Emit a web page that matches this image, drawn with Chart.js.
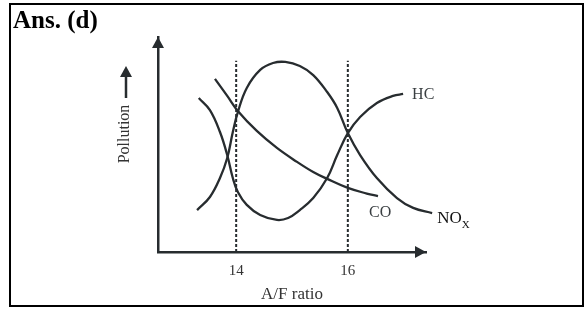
<!DOCTYPE html>
<html>
<head>
<meta charset="utf-8">
<script src="https://cdn.jsdelivr.net/npm/chart.js@4.4.0/dist/chart.umd.min.js"></script>
<style>
  html, body { margin: 0; padding: 0; background: #fff; }
  #wrap { position: relative; width: 587px; height: 310px; }
  #c { position: absolute; left: 0; top: 0; }
  #frame { position: absolute; left: 9px; top: 3px; width: 571px; height: 300px; border: 2px solid #000; pointer-events: none; }
  #ans { position: absolute; left: 13px; top: 6px; font: bold 25px "Liberation Serif", "Times New Roman", serif; color: #000; line-height: 1.1; }
</style>
</head>
<body>
<div id="wrap">
  <canvas id="c" width="587" height="310"></canvas>
  <div id="frame"></div>
  <div id="ans">Ans. (d)</div>
</div>
<script>
// A/F ratio tick labels shown
const tickValues = [14, 16];
const dashedAt = [14, 16];
const dashedTop = 89;

// HC curve
const hcX = [13.33, 13.53, 13.71, 13.84, 13.94, 14.03, 14.19, 14.43, 14.73, 14.93, 15.14, 15.38, 15.63, 15.81, 16.0, 16.22, 16.52, 16.81, 16.99];
const hcY = [71.6, 66.0, 55.8, 45.1, 34.4, 27.9, 21.9, 17.2, 14.9, 15.8, 19.5, 25.1, 34.4, 45.1, 55.3, 62.8, 69.3, 72.6, 73.5];

// NOx curve
const noxX = [13.30, 13.53, 13.71, 13.84, 13.94, 14.03, 14.19, 14.43, 14.66, 14.88, 15.14, 15.38, 15.63, 15.81, 16.0, 16.22, 16.52, 16.88, 17.17, 17.51];
const noxY = [19.5, 25.6, 34.4, 43.7, 55.8, 65.1, 76.3, 84.7, 87.9, 88.4, 86.5, 82.3, 74.4, 67.0, 55.3, 45.1, 34.4, 25.1, 20.5, 18.1];

// CO curve
const coX = [13.62, 13.84, 14.03, 14.37, 14.73, 15.09, 15.38, 15.63, 16.0, 16.34, 16.54];
const coY = [80.5, 72.6, 65.6, 56.3, 48.4, 41.9, 37.2, 34.0, 29.8, 27.2, 26.0];

const INK = '#272c2f';
const SERIF = '"Liberation Serif", "Times New Roman", serif';

const pts = (xs, ys) => xs.map((x, i) => ({ x: x, y: ys[i] }));

function curve(label, xs, ys) {
  return {
    label: label,
    data: pts(xs, ys),
    showLine: true,
    borderColor: INK,
    borderWidth: 2.3,
    pointRadius: 0,
    tension: 0.4,
    clip: false,
    fill: false
  };
}

const datasets = [
  curve('HC', hcX, hcY),
  curve('NOx', noxX, noxY),
  curve('CO', coX, coY)
];
dashedAt.forEach(v => datasets.push({
  label: 'A/F ' + v,
  data: [{ x: v, y: 0 }, { x: v, y: dashedTop }],
  showLine: true,
  borderColor: INK,
  borderWidth: 2,
  borderDash: [3, 2],
  pointRadius: 0,
  clip: false
}));

const decor = {
  id: 'decor',
  afterDraw(chart) {
    const ctx = chart.ctx;
    const xs = chart.scales.x, ys = chart.scales.y;
    const ca = chart.chartArea;
    ctx.save();
    ctx.fillStyle = INK;
    // y axis arrow head
    ctx.beginPath();
    ctx.moveTo(ca.left, ca.top);
    ctx.lineTo(ca.left - 6, ca.top + 11);
    ctx.lineTo(ca.left + 6, ca.top + 11);
    ctx.closePath();
    ctx.fill();
    // x axis arrow head
    ctx.beginPath();
    ctx.moveTo(ca.right, ca.bottom);
    ctx.lineTo(ca.right - 11, ca.bottom - 6);
    ctx.lineTo(ca.right - 11, ca.bottom + 6);
    ctx.closePath();
    ctx.fill();

    // Pollution label with arrow
    const px = ca.left - 33;
    ctx.save();
    ctx.translate(px, 134);
    ctx.rotate(-Math.PI / 2);
    ctx.fillStyle = '#333';
    ctx.font = '16px ' + SERIF;
    ctx.textAlign = 'center';
    ctx.textBaseline = 'middle';
    ctx.fillText('Pollution', 0, 0);
    ctx.restore();
    ctx.strokeStyle = INK;
    ctx.lineWidth = 2.5;
    ctx.beginPath();
    ctx.moveTo(px + 1, 98);
    ctx.lineTo(px + 1, 76);
    ctx.stroke();
    ctx.beginPath();
    ctx.moveTo(px + 1, 66);
    ctx.lineTo(px - 5, 77);
    ctx.lineTo(px + 7, 77);
    ctx.closePath();
    ctx.fill();

    // curve labels
    const end = (xsArr, ysArr) => ({
      x: xs.getPixelForValue(xsArr[xsArr.length - 1]),
      y: ys.getPixelForValue(ysArr[ysArr.length - 1])
    });
    ctx.textBaseline = 'middle';
    ctx.textAlign = 'left';
    ctx.font = '16px ' + SERIF;
    ctx.fillStyle = '#3a3f42';
    const h = end(hcX, hcY);
    ctx.fillText('HC', h.x + 9, h.y + 1);
    const c = end(coX, coY);
    ctx.fillText('CO', c.x - 9, c.y + 17);
    const n = end(noxX, noxY);
    ctx.fillStyle = '#111';
    ctx.font = '17px ' + SERIF;
    ctx.fillText('NO', n.x + 5, n.y + 5);
    const w = ctx.measureText('NO').width;
    ctx.font = '11px ' + SERIF;
    ctx.fillText('X', n.x + 5 + w, n.y + 12);
    ctx.restore();
  }
};

new Chart(document.getElementById('c'), {
  type: 'scatter',
  data: { datasets: datasets },
  options: {
    responsive: false,
    animation: false,
    devicePixelRatio: 1,
    layout: { padding: { left: 158, right: 161, top: 37, bottom: 0 } },
    plugins: { legend: { display: false }, tooltip: { enabled: false } },
    scales: {
      x: {
        type: 'linear',
        min: 12.6,
        max: 17.4,
        afterBuildTicks: s => { s.ticks = tickValues.map(v => ({ value: v })); },
        afterFit: s => { s.height = 58; },
        grid: { display: false, drawTicks: false },
        border: { display: true, color: INK, width: 2.5 },
        ticks: { color: '#333', font: { family: SERIF, size: 15 }, padding: 10, maxRotation: 0, autoSkip: false },
        title: { display: true, text: 'A/F ratio', color: '#333', font: { family: SERIF, size: 17 }, padding: { top: 0, bottom: 5 } }
      },
      y: {
        type: 'linear',
        min: 0,
        max: 100,
        afterFit: s => { s.width = 0; },
        grid: { display: false, drawTicks: false },
        border: { display: true, color: INK, width: 2.5 },
        ticks: { display: false }
      }
    }
  },
  plugins: [decor]
});
</script>
</body>
</html>
